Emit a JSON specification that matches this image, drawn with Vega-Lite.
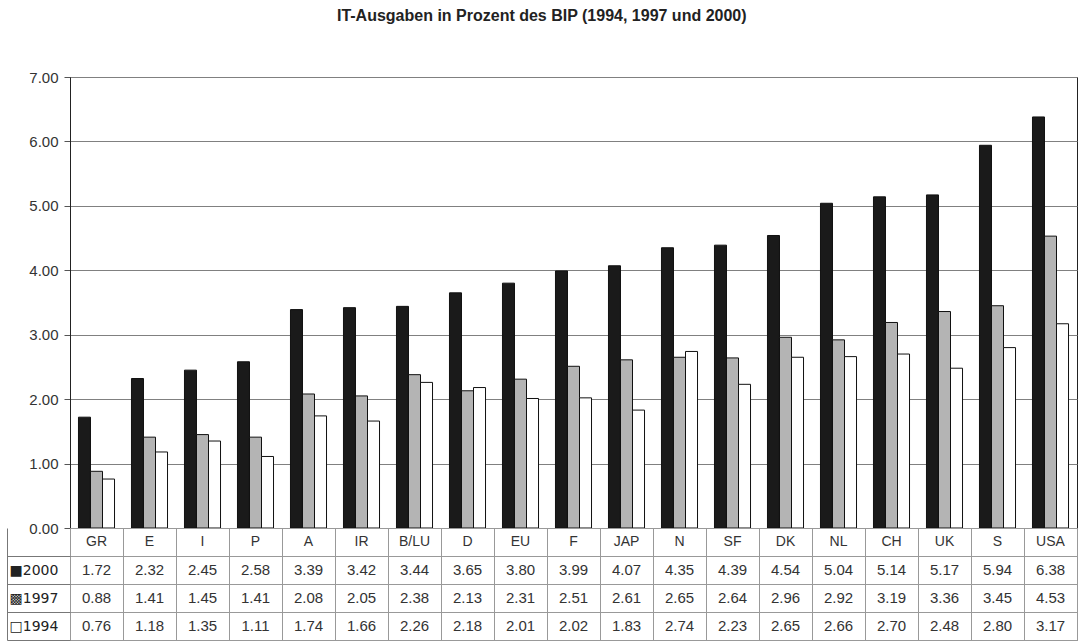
{
  "$schema": "https://vega.github.io/schema/vega-lite/v6.json",
  "padding": {"left": 6, "top": 7, "right": 0, "bottom": 0},
  "title": {"text": "IT-Ausgaben in Prozent des BIP (1994, 1997 und 2000)", "fontSize": 16, "fontWeight": "bold", "font": "Liberation Sans", "color": "#222", "offset": 46, "anchor": "middle"},
  "config": {"font": "Liberation Sans", "view": {"stroke": null}},
  "bounds": "flush",
  "spacing": 0,
  "resolve": {"scale": {"x": "independent", "y": "independent"}},
  "data": {"values": [
    {"country": "GR", "year": "2000", "value": 1.72}, {"country": "GR", "year": "1997", "value": 0.88}, {"country": "GR", "year": "1994", "value": 0.76},
    {"country": "E", "year": "2000", "value": 2.32}, {"country": "E", "year": "1997", "value": 1.41}, {"country": "E", "year": "1994", "value": 1.18},
    {"country": "I", "year": "2000", "value": 2.45}, {"country": "I", "year": "1997", "value": 1.45}, {"country": "I", "year": "1994", "value": 1.35},
    {"country": "P", "year": "2000", "value": 2.58}, {"country": "P", "year": "1997", "value": 1.41}, {"country": "P", "year": "1994", "value": 1.11},
    {"country": "A", "year": "2000", "value": 3.39}, {"country": "A", "year": "1997", "value": 2.08}, {"country": "A", "year": "1994", "value": 1.74},
    {"country": "IR", "year": "2000", "value": 3.42}, {"country": "IR", "year": "1997", "value": 2.05}, {"country": "IR", "year": "1994", "value": 1.66},
    {"country": "B/LU", "year": "2000", "value": 3.44}, {"country": "B/LU", "year": "1997", "value": 2.38}, {"country": "B/LU", "year": "1994", "value": 2.26},
    {"country": "D", "year": "2000", "value": 3.65}, {"country": "D", "year": "1997", "value": 2.13}, {"country": "D", "year": "1994", "value": 2.18},
    {"country": "EU", "year": "2000", "value": 3.80}, {"country": "EU", "year": "1997", "value": 2.31}, {"country": "EU", "year": "1994", "value": 2.01},
    {"country": "F", "year": "2000", "value": 3.99}, {"country": "F", "year": "1997", "value": 2.51}, {"country": "F", "year": "1994", "value": 2.02},
    {"country": "JAP", "year": "2000", "value": 4.07}, {"country": "JAP", "year": "1997", "value": 2.61}, {"country": "JAP", "year": "1994", "value": 1.83},
    {"country": "N", "year": "2000", "value": 4.35}, {"country": "N", "year": "1997", "value": 2.65}, {"country": "N", "year": "1994", "value": 2.74},
    {"country": "SF", "year": "2000", "value": 4.39}, {"country": "SF", "year": "1997", "value": 2.64}, {"country": "SF", "year": "1994", "value": 2.23},
    {"country": "DK", "year": "2000", "value": 4.54}, {"country": "DK", "year": "1997", "value": 2.96}, {"country": "DK", "year": "1994", "value": 2.65},
    {"country": "NL", "year": "2000", "value": 5.04}, {"country": "NL", "year": "1997", "value": 2.92}, {"country": "NL", "year": "1994", "value": 2.66},
    {"country": "CH", "year": "2000", "value": 5.14}, {"country": "CH", "year": "1997", "value": 3.19}, {"country": "CH", "year": "1994", "value": 2.70},
    {"country": "UK", "year": "2000", "value": 5.17}, {"country": "UK", "year": "1997", "value": 3.36}, {"country": "UK", "year": "1994", "value": 2.48},
    {"country": "S", "year": "2000", "value": 5.94}, {"country": "S", "year": "1997", "value": 3.45}, {"country": "S", "year": "1994", "value": 2.80},
    {"country": "USA", "year": "2000", "value": 6.38}, {"country": "USA", "year": "1997", "value": 4.53}, {"country": "USA", "year": "1994", "value": 3.17}
  ]},
  "vconcat": [
    {
      "width": 1007,
      "height": 451,
      "view": {"stroke": "#222", "strokeWidth": 1},
      "mark": {"type": "bar", "stroke": "#111", "strokeWidth": 1},
      "encoding": {
        "x": {"field": "country", "type": "nominal", "sort": null, "scale": {"paddingInner": 0.32, "paddingOuter": 0.16}, "axis": null},
        "xOffset": {"field": "year", "type": "nominal", "scale": {"domain": ["2000", "1997", "1994"], "paddingInner": 0, "paddingOuter": 0}},
        "y": {"field": "value", "type": "quantitative", "scale": {"domain": [0, 7], "nice": false},
          "axis": {"values": [0, 1, 2, 3, 4, 5, 6, 7], "format": ".2f", "title": null, "grid": true, "gridColor": "#808080", "gridOpacity": 1, "labelFontSize": 15, "labelColor": "#333", "tickSize": 6, "tickColor": "#555", "domainColor": "#222", "labelPadding": 6}},
        "fill": {"field": "year", "type": "nominal", "scale": {"domain": ["2000", "1997", "1994"], "range": ["#1a1a1a", "#b4b4b4", "#ffffff"]}, "legend": null}
      }
    },
    {
      "width": 1007,
      "height": 112,
      "view": {"stroke": "#777", "strokeWidth": 1},
      "encoding": {
        "x": {"field": "country", "type": "nominal", "sort": null, "scale": {"paddingInner": 0, "paddingOuter": 0},
          "axis": {"title": null, "labels": false, "ticks": false, "domain": false, "grid": true, "tickBand": "extent", "gridColor": "#999", "gridOpacity": 1}}
      },
      "layer": [
        {
          "mark": {"type": "text", "fontSize": 15, "color": "#333"},
          "encoding": {
            "y": {"field": "year", "type": "ordinal", "scale": {"domain": ["cat", "2000", "1997", "1994"], "paddingInner": 0, "paddingOuter": 0},
              "axis": {"title": null, "orient": "left", "offset": 63, "tickSize": -63, "tickBand": "extent",
                "tickColor": {"condition": {"test": "!isValid(datum.value)", "value": "transparent"}, "value": "#777"},
                "grid": true, "gridColor": "#999", "gridOpacity": 1, "domain": true, "domainColor": "#777",
                "labelAlign": "left", "labelPadding": 61, "labelFont": "DejaVu Sans", "labelFontSize": 14, "labelColor": "#222",
                "labelExpr": "datum.value == '2000' ? '■2000' : datum.value == '1997' ? '▩1997' : datum.value == '1994' ? '□1994' : ''"}},
            "text": {"field": "value", "type": "quantitative", "format": ".2f"}
          }
        },
        {
          "transform": [{"filter": "datum.year == '2000'"}],
          "mark": {"type": "text", "fontSize": 14, "color": "#333"},
          "encoding": {
            "y": {"datum": "cat", "type": "ordinal"},
            "text": {"field": "country", "type": "nominal"}
          }
        }
      ]
    }
  ]
}
